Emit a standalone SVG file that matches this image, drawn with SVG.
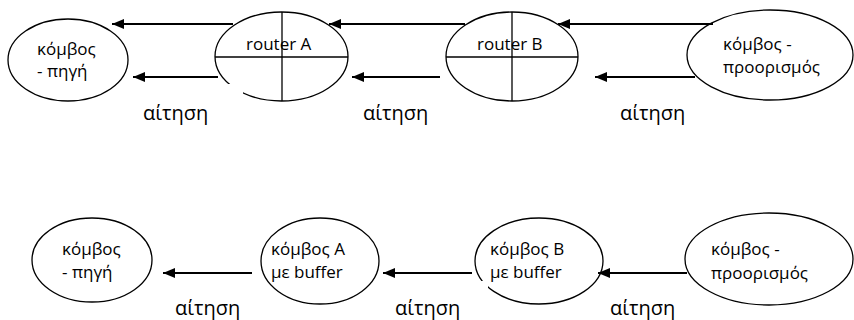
<svg xmlns="http://www.w3.org/2000/svg" width="854" height="320" viewBox="0 0 854 320">
  <defs>
    <marker id="arrow" viewBox="0 0 12 10" refX="12" refY="5" markerWidth="12" markerHeight="10" markerUnits="userSpaceOnUse" orient="auto">
      <path d="M0,0 L12,5 L0,10 Z" fill="#000"/>
    </marker>
  </defs>
  <style>
    .node { fill: #fff; stroke: #000; stroke-width: 1.3; }
    .cross { stroke: #000; stroke-width: 1.3; }
    .txt { font-family: "Open Sans", "Noto Sans", sans-serif; font-size: 17px; fill: #000; }
    .lbl { font-family: "Open Sans", "Noto Sans", sans-serif; font-size: 20px; fill: #000; }
    .link { stroke: #000; stroke-width: 2; fill: none; marker-end: url(#arrow); }
    .pad { fill: #fff; }
  </style>
  <rect width="854" height="320" fill="#fff"/>

  <!-- upper row: source, two routers, destination -->
  <g id="src-top">
    <ellipse class="node" cx="68" cy="60" rx="60" ry="41"/>
    <text class="txt" x="37" y="55">κόμβος</text>
    <text class="txt" x="37" y="77">- πηγή</text>
  </g>
  <g id="router-a">
    <ellipse class="node" cx="281.5" cy="56.5" rx="66.5" ry="44.5"/>
    <line class="cross" x1="282" y1="12" x2="282" y2="101"/>
    <line class="cross" x1="215" y1="57" x2="348" y2="57"/>
    <text class="txt" x="246" y="50">router A</text>
  </g>
  <g id="router-b">
    <ellipse class="node" cx="512" cy="56.5" rx="66" ry="44.5"/>
    <line class="cross" x1="512" y1="12" x2="512" y2="101"/>
    <line class="cross" x1="446" y1="57" x2="578" y2="57"/>
    <text class="txt" x="477" y="50">router B</text>
  </g>
  <g id="dst-top">
    <ellipse class="node" cx="770" cy="55" rx="83" ry="45"/>
    <text class="txt" x="723" y="50">κόμβος -</text>
    <text class="txt" x="723" y="73">προορισμός</text>
  </g>

  <!-- lower row: source, buffered nodes, destination -->
  <g id="src-bottom">
    <ellipse class="node" cx="92" cy="260" rx="60" ry="42"/>
    <text class="txt" x="62" y="255">κόμβος</text>
    <text class="txt" x="62" y="278">- πηγή</text>
  </g>
  <g id="node-a">
    <ellipse class="node" cx="320" cy="261" rx="59" ry="43"/>
    <text class="txt" x="271" y="255">κόμβος A</text>
    <text class="txt" x="271" y="278">με buffer</text>
  </g>
  <g id="node-b">
    <ellipse class="node" cx="539" cy="261" rx="64" ry="43"/>
    <text class="txt" x="490" y="255">κόμβος B</text>
    <text class="txt" x="490" y="278">με buffer</text>
  </g>
  <g id="dst-bottom">
    <ellipse class="node" cx="769" cy="259" rx="84" ry="46"/>
    <text class="txt" x="711" y="255">κόμβος -</text>
    <text class="txt" x="711" y="279">προορισμός</text>
  </g>

  <!-- request labels (white text boxes) -->
  <g id="labels">
    <rect class="pad" x="138" y="84" width="105" height="40"/>
    <rect class="pad" x="400" y="281" width="88" height="39"/>
    <rect class="pad" x="605" y="277" width="85" height="43"/>
    <text class="lbl" x="143" y="120">αίτηση</text>
    <text class="lbl" x="363" y="120">αίτηση</text>
    <text class="lbl" x="620" y="120">αίτηση</text>
    <text class="lbl" x="175" y="315">αίτηση</text>
    <text class="lbl" x="395" y="315">αίτηση</text>
    <text class="lbl" x="610" y="315">αίτηση</text>
  </g>

  <!-- connectors -->
  <g id="connectors">
    <line class="link" x1="233" y1="24" x2="112" y2="24"/>
    <line class="link" x1="218" y1="77" x2="133" y2="77"/>
    <line class="link" x1="465" y1="24" x2="329" y2="24"/>
    <line class="link" x1="440" y1="77" x2="352" y2="77"/>
    <line class="link" x1="713" y1="24" x2="558" y2="24"/>
    <line class="link" x1="695" y1="77" x2="595" y2="77"/>
    <line class="link" x1="252" y1="273" x2="163" y2="273"/>
    <line class="link" x1="472" y1="273" x2="383" y2="273"/>
    <line class="link" x1="687" y1="273" x2="598" y2="273"/>
  </g>
</svg>
